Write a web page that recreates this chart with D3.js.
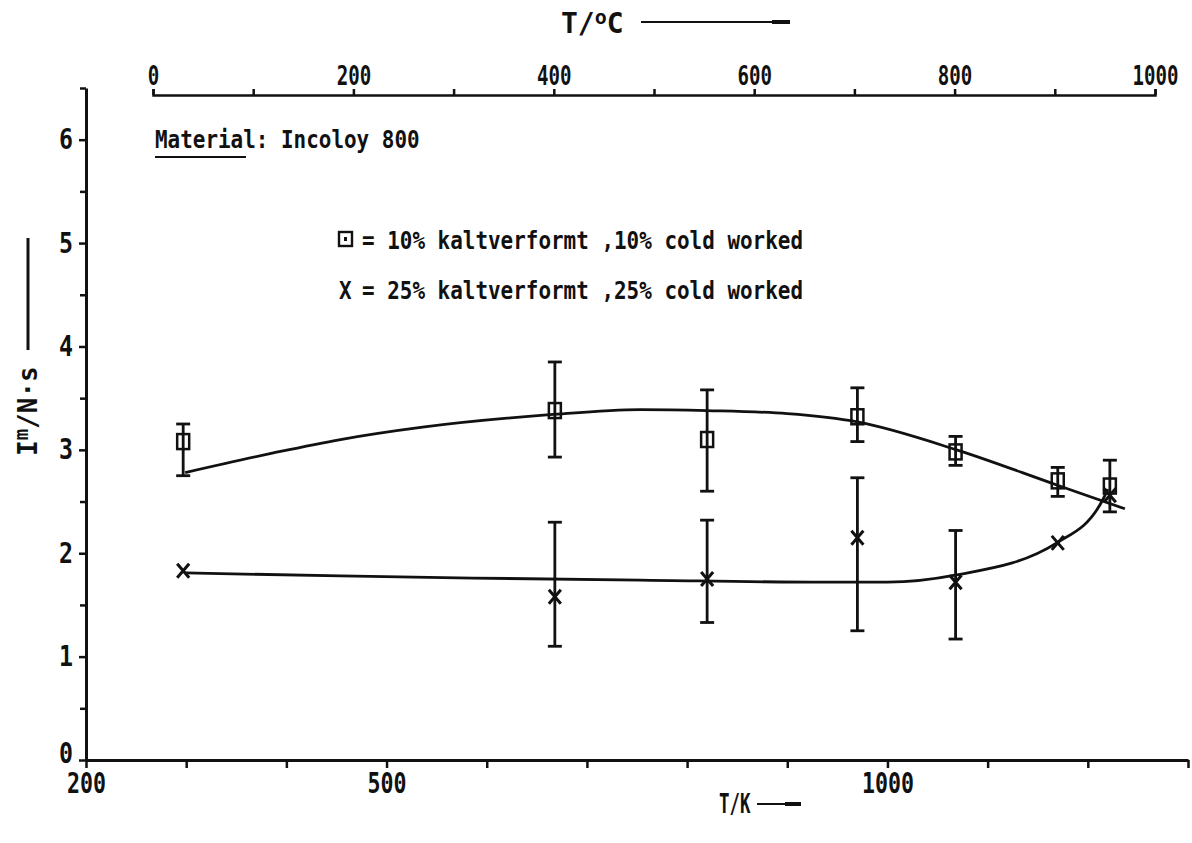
<!DOCTYPE html>
<html>
<head>
<meta charset="utf-8">
<script src="https://cdn.jsdelivr.net/npm/d3@7"></script>
<style>
  html, body { margin: 0; padding: 0; background: #fff; }
  svg { display: block; }
  text { font-family: "DejaVu Sans Mono", "Liberation Mono", monospace; font-weight: bold; fill: #111; }
</style>
</head>
<body>
<svg id="chart" width="1192" height="843"></svg>
<script>
// Measurement temperatures (K)
const tempK = [297, 668, 820, 970, 1068, 1170, 1222];

// 10 % cold worked: mean value and scatter band
const cw10   = [3.08, 3.38, 3.10, 3.32, 2.98, 2.70, 2.65];
const cw10Lo = [2.75, 2.93, 2.60, 3.08, 2.85, 2.55, 2.40];
const cw10Hi = [3.25, 3.85, 3.58, 3.60, 3.13, 2.83, 2.90];

// 25 % cold worked: mean value and scatter band (null = no band drawn)
const cw25   = [1.83, 1.58, 1.75, 2.15, 1.72, 2.10, 2.56];
const cw25Lo = [null, 1.10, 1.33, 1.25, 1.17, null, null];
const cw25Hi = [null, 2.30, 2.32, 2.73, 2.22, null, null];

// Hand-fitted trend curves
const fit10K = [299, 387, 454, 536, 663, 753, 820, 900, 970, 1069, 1169, 1237];
const fit10V = [2.78, 2.97, 3.10, 3.22, 3.34, 3.39, 3.38, 3.35, 3.27, 3.00, 2.66, 2.43];
const fit25K = [299, 454, 586, 753, 938, 1000, 1069, 1169, 1214, 1220];
const fit25V = [1.81, 1.78, 1.76, 1.74, 1.72, 1.72, 1.79, 2.10, 2.50, 2.62];

// Axis ticks and labels
const kelvinTicks  = [200, 300, 400, 500, 600, 700, 800, 900, 1000, 1100, 1200, 1300];
const kelvinLabels = [200, 500, 1000];
const celsiusTicks  = [0, 100, 200, 300, 400, 500, 600, 700, 800, 900, 1000];
const celsiusLabels = [0, 200, 400, 600, 800, 1000];
const yMajor = [0, 1, 2, 3, 4, 5, 6];
const yMinor = [0.5, 1.5, 2.5, 3.5, 4.5, 5.5, 6.5];

const svg = d3.select("#chart");
const INK = "#111";

const x  = d3.scaleLinear().domain([200, 1300]).range([86, 1188]);
const xc = d3.scaleLinear().domain([0, 1000]).range([153, 1155]);
const y  = d3.scaleLinear().domain([0, 6.5]).range([760, 88]);

// squeeze glyphs to the narrow typewriter pitch
function pitch(sel, w) {
  sel.each(function () {
    const t = d3.select(this);
    const n = t.text().length;
    if (n) t.attr("textLength", n * w).attr("lengthAdjust", "spacingAndGlyphs");
  });
}

function styleAxis(g, fontSize) {
  g.select(".domain").attr("stroke", INK).attr("stroke-width", 3);
  g.selectAll(".tick line").attr("stroke", INK).attr("stroke-width", 2.5);
  g.selectAll(".tick text")
    .attr("fill", INK)
    .style("font-family", '"DejaVu Sans Mono", monospace')
    .style("font-weight", "bold")
    .style("font-size", fontSize + "px");
}

// bottom axis, kelvin
const gx = svg.append("g").attr("transform", `translate(0,${y(0)})`)
  .call(d3.axisBottom(x).tickValues(kelvinTicks).tickSize(8).tickSizeOuter(0).tickPadding(5)
    .tickFormat(d => kelvinLabels.includes(d) ? d : ""));
styleAxis(gx, 28);
gx.selectAll(".tick text").call(pitch, 13);

// top axis, celsius
const gc = svg.append("g").attr("transform", "translate(0,95)")
  .call(d3.axisTop(xc).tickValues(celsiusTicks).tickSize(6).tickSizeOuter(6).tickPadding(4)
    .tickFormat(d => celsiusLabels.includes(d) ? d : ""));
styleAxis(gc, 27);
gc.select(".domain").attr("stroke-width", 2.5);
gc.selectAll(".tick text").call(pitch, 11.5);

// left axis
const gy = svg.append("g").attr("transform", `translate(${x(200)},0)`)
  .call(d3.axisLeft(y).tickValues(yMajor).tickSize(7).tickSizeOuter(0).tickPadding(6)
    .tickFormat(d3.format("d")));
styleAxis(gy, 28);
gy.selectAll(".tick text").call(pitch, 14);
gy.selectAll(".tick").filter(d => d === 0).select("text").attr("dy", "0.1em");
svg.append("g").attr("transform", `translate(${x(200)},0)`)
  .call(d3.axisLeft(y).tickValues(yMinor).tickSize(6).tickFormat(""))
  .call(g => g.select(".domain").remove())
  .selectAll(".tick line").attr("stroke", INK).attr("stroke-width", 2.5);

// axis titles with their direction strokes
const topTitle = svg.append("text").attr("x", 561).attr("y", 33).style("font-size", "28px");
topTitle.append("tspan").text("T/");
topTitle.append("tspan").attr("dy", -9).style("font-size", "20px").text("o");
topTitle.append("tspan").attr("dy", 9).text("C");
svg.append("line").attr("x1", 641).attr("x2", 790).attr("y1", 22).attr("y2", 22)
  .attr("stroke", INK).attr("stroke-width", 2);
svg.append("line").attr("x1", 772).attr("x2", 790).attr("y1", 22).attr("y2", 22)
  .attr("stroke", INK).attr("stroke-width", 4);

svg.append("text").attr("x", 719).attr("y", 813).style("font-size", "27px").text("T/K")
  .call(pitch, 10.5);
svg.append("line").attr("x1", 757).attr("x2", 801).attr("y1", 804).attr("y2", 804)
  .attr("stroke", INK).attr("stroke-width", 2);
svg.append("line").attr("x1", 785).attr("x2", 801).attr("y1", 804).attr("y2", 804)
  .attr("stroke", INK).attr("stroke-width", 4);

const yTitle = svg.append("text").attr("transform", "translate(37,456) rotate(-90)")
  .style("font-size", "26px");
yTitle.append("tspan").text("I");
yTitle.append("tspan").attr("dy", -9).style("font-size", "19px").text("m");
yTitle.append("tspan").attr("dy", 9).text("/N\u00b7s");
svg.append("line").attr("x1", 28).attr("x2", 28).attr("y1", 350).attr("y2", 238)
  .attr("stroke", INK).attr("stroke-width", 3);

// material note
svg.append("text").attr("x", 155).attr("y", 148).style("font-size", "25px")
  .text("Material: Incoloy 800").call(pitch, 12.6);
svg.append("line").attr("x1", 155).attr("x2", 246).attr("y1", 157).attr("y2", 157)
  .attr("stroke", INK).attr("stroke-width", 2);

// legend
function squareMark(g, cx, cy) {
  g.append("rect").attr("x", cx - 6).attr("y", cy - 7.5).attr("width", 12).attr("height", 15)
    .attr("fill", "none").attr("stroke", INK).attr("stroke-width", 2.5);
}
function crossMark(g, cx, cy) {
  g.append("path").attr("d", `M${cx - 6},${cy - 7}L${cx + 6},${cy + 7}M${cx + 6},${cy - 7}L${cx - 6},${cy + 7}`)
    .attr("fill", "none").attr("stroke", INK).attr("stroke-width", 3);
}
const leg = svg.append("g");
leg.append("rect").attr("x", 339).attr("y", 232).attr("width", 13).attr("height", 14)
  .attr("fill", "none").attr("stroke", INK).attr("stroke-width", 2.4);
leg.append("rect").attr("x", 344).attr("y", 237).attr("width", 3).attr("height", 4).attr("fill", INK);
leg.append("text").attr("x", 362).attr("y", 249).style("font-size", "25px")
  .text("= 10% kaltverformt ,10% cold worked").call(pitch, 12.6);
leg.append("text").attr("x", 339).attr("y", 299).style("font-size", "25px")
  .text("X").call(pitch, 12.6);
leg.append("text").attr("x", 362).attr("y", 299).style("font-size", "25px")
  .text("= 25% kaltverformt ,25% cold worked").call(pitch, 12.6);

// trend curves
const curve = d3.line().x(d => x(d[0])).y(d => y(d[1])).curve(d3.curveMonotoneX);
svg.append("path").attr("d", curve(d3.zip(fit10K, fit10V)))
  .attr("fill", "none").attr("stroke", INK).attr("stroke-width", 2.8);
svg.append("path").attr("d", curve(d3.zip(fit25K, fit25V)))
  .attr("fill", "none").attr("stroke", INK).attr("stroke-width", 2.8);

// scatter bands
function bars(lo, hi) {
  const g = svg.append("g").attr("stroke", INK).attr("stroke-width", 2.8);
  tempK.forEach((t, i) => {
    if (lo[i] == null || hi[i] == null) return;
    const cx = x(t);
    g.append("line").attr("x1", cx).attr("x2", cx).attr("y1", y(lo[i])).attr("y2", y(hi[i]));
    g.append("line").attr("x1", cx - 7).attr("x2", cx + 7).attr("y1", y(lo[i])).attr("y2", y(lo[i]));
    g.append("line").attr("x1", cx - 7).attr("x2", cx + 7).attr("y1", y(hi[i])).attr("y2", y(hi[i]));
  });
}
bars(cw10Lo, cw10Hi);
bars(cw25Lo, cw25Hi);

// markers
const marks = svg.append("g");
tempK.forEach((t, i) => squareMark(marks, x(t), y(cw10[i])));
tempK.forEach((t, i) => crossMark(marks, x(t), y(cw25[i])));
</script>
</body>
</html>
